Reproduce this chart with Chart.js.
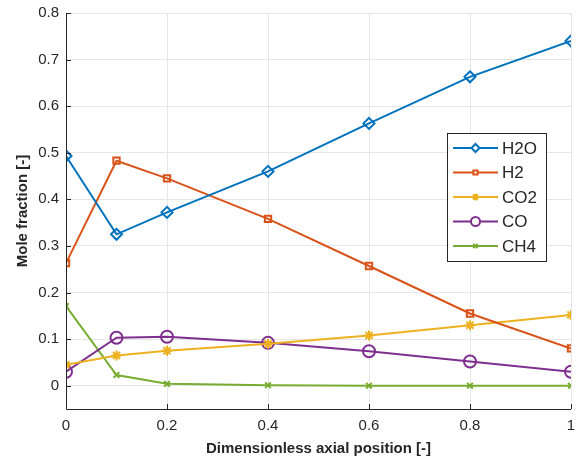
<!DOCTYPE html>
<html>
<head>
<meta charset="utf-8">
<script src="https://cdn.jsdelivr.net/npm/chart.js@4.4.1/dist/chart.umd.min.js"></script>
<style>
  html, body { margin: 0; padding: 0; background: #fff; }
  #wrap { width: 584px; height: 462px; }
</style>
</head>
<body>
<div id="wrap"><canvas id="chart" width="584" height="462"></canvas></div>
<script>
// Data
const positions = [0, 0.1, 0.2, 0.4, 0.6, 0.8, 1];
const h2o = [0.493, 0.325, 0.372, 0.460, 0.563, 0.663, 0.740];
const h2  = [0.263, 0.483, 0.445, 0.358, 0.257, 0.155, 0.080];
const co2 = [0.045, 0.065, 0.075, 0.090, 0.108, 0.130, 0.152];
const co  = [0.030, 0.103, 0.105, 0.092, 0.074, 0.052, 0.030];
const ch4 = [0.171, 0.023, 0.004, 0.001, 0.000, 0.000, 0.000];

const seriesNames = ['H2O', 'H2', 'CO2', 'CO', 'CH4'];
const xTicks = [0, 0.2, 0.4, 0.6, 0.8, 1];
const yTicks = [0, 0.1, 0.2, 0.3, 0.4, 0.5, 0.6, 0.7, 0.8];

const colors = ['#0072BD', '#D95319', '#EDB120', '#7E2F8E', '#77AC30'];
const markers = ['rectRot', 'rect', 'star', 'circle', 'crossRot'];
const radii = [5.5, 4.5, 5, 6, 4];
const FONT = '"Liberation Sans", Arial, Helvetica, sans-serif';
const TEXT = '#262626';

function toPoints(vals) {
    return positions.map((x, i) => ({ x: x, y: vals[i] }));
}

const allSeries = [h2o, h2, co2, co, ch4];
const datasets = allSeries.map((vals, i) => ({
    label: seriesNames[i],
    data: toPoints(vals),
    borderColor: colors[i],
    backgroundColor: 'rgba(255,255,255,0)',
    borderWidth: 2,
    pointStyle: markers[i],
    pointRadius: radii[i],
    pointBorderWidth: 2,
    pointBorderColor: colors[i],
    pointBackgroundColor: 'rgba(255,255,255,0)',
    tension: 0
}));

// MATLAB style axes: left and bottom lines with inward ticks
const axesPlugin = {
    id: 'matlabAxes',
    afterDatasetsDraw(chart) {
        const ctx = chart.ctx;
        const a = chart.chartArea;
        const xs = chart.scales.x, ys = chart.scales.y;
        ctx.save();
        ctx.strokeStyle = '#262626';
        ctx.lineWidth = 1;
        ctx.beginPath();
        ctx.moveTo(a.left + 0.5, a.top);
        ctx.lineTo(a.left + 0.5, a.bottom + 0.5);
        ctx.lineTo(a.right, a.bottom + 0.5);
        xTicks.forEach(v => {
            const px = Math.round(xs.getPixelForValue(v)) + 0.5;
            ctx.moveTo(px, a.bottom);
            ctx.lineTo(px, a.bottom - 5);
        });
        yTicks.forEach(v => {
            const py = Math.round(ys.getPixelForValue(v)) + 0.5;
            ctx.moveTo(a.left, py);
            ctx.lineTo(a.left + 5, py);
        });
        ctx.stroke();
        ctx.restore();
    }
};

// Legend box drawn inside the plot area
const legendPlugin = {
    id: 'insideLegend',
    afterDraw(chart) {
        const ctx = chart.ctx;
        const box = { x: 447.5, y: 133.5, w: 99, h: 128 };
        ctx.save();
        ctx.fillStyle = '#ffffff';
        ctx.fillRect(box.x, box.y, box.w, box.h);
        ctx.strokeStyle = '#262626';
        ctx.lineWidth = 1;
        ctx.strokeRect(box.x, box.y, box.w, box.h);
        ctx.font = '17px ' + FONT;
        ctx.textBaseline = 'middle';
        chart.data.datasets.forEach((ds, i) => {
            const cy = 148 + i * 24.5;
            ctx.strokeStyle = ds.borderColor;
            ctx.lineWidth = 2;
            ctx.beginPath();
            ctx.moveTo(453, cy);
            ctx.lineTo(498, cy);
            ctx.stroke();
            ctx.fillStyle = '#ffffff';
            Chart.helpers.drawPoint(ctx, {
                pointStyle: ds.pointStyle,
                radius: Math.max(3, ds.pointRadius - 1.5),
                rotation: 0,
                borderWidth: 2
            }, 475.5, cy);
            ctx.fillStyle = TEXT;
            ctx.fillText(ds.label, 502, cy + 1);
        });
        ctx.restore();
    }
};

new Chart(document.getElementById('chart'), {
    type: 'line',
    data: { datasets: datasets },
    options: {
        responsive: false,
        animation: false,
        layout: { padding: { top: 13, right: 13, left: 14, bottom: 0 } },
        plugins: {
            legend: { display: false },
            tooltip: { enabled: false }
        },
        scales: {
            x: {
                type: 'linear',
                min: 0,
                max: 1,
                afterBuildTicks: s => { s.ticks = xTicks.map(v => ({ value: v })); },
                afterFit: s => { s.height = 53; s.paddingLeft = 0; s.paddingRight = 0; },
                grid: { color: '#e6e6e6', drawTicks: false, drawOnChartArea: true },
                border: { display: false },
                ticks: {
                    padding: 8,
                    color: TEXT,
                    font: { family: FONT, size: 15 },
                    maxRotation: 0,
                    callback: v => String(v)
                },
                title: {
                    display: true,
                    text: 'Dimensionless axial position [-]',
                    color: TEXT,
                    font: { family: FONT, size: 15, weight: 'bold' },
                    padding: { top: 2, bottom: 4 }
                }
            },
            y: {
                type: 'linear',
                min: -0.05,
                max: 0.8,
                afterBuildTicks: s => { s.ticks = yTicks.map(v => ({ value: v })); },
                afterFit: s => { s.width = 52; s.paddingTop = 0; s.paddingBottom = 0; },
                grid: { color: '#e6e6e6', drawTicks: false },
                border: { display: false },
                ticks: {
                    padding: 7,
                    color: TEXT,
                    font: { family: FONT, size: 15 },
                    callback: v => (v === 0 ? '0' : v.toFixed(1))
                },
                title: {
                    display: true,
                    text: 'Mole fraction [-]',
                    color: TEXT,
                    font: { family: FONT, size: 15, weight: 'bold' },
                    padding: { top: 0, bottom: 0 }
                }
            }
        }
    },
    plugins: [axesPlugin, legendPlugin]
});
</script>
</body>
</html>
